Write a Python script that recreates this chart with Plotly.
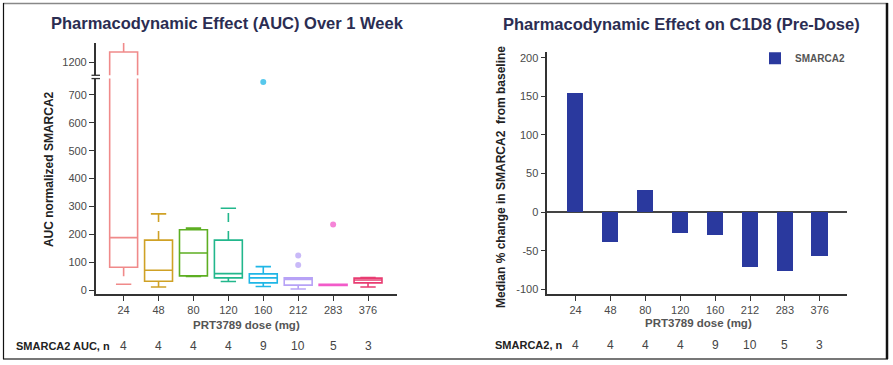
import plotly.graph_objects as go

# ---------------- data ----------------
doses = ["24", "48", "80", "120", "160", "212", "283", "376"]
auc_q1 = [83, 33, 52, 45, 27, 19, 18, 27]
auc_median = [189, 72, 134, 60, 45, 39, 20, 37]
auc_q3 = [1237, 180, 217, 180, 59, 45, 22, 44]
auc_lower = [22, 12, 50, 32, 14, 5, 18, 12]
auc_upper = [1280, 274, 223, 294, 85, 45, 22, 46]
upper_dashed = [True, True, False, True, False, False, False, False]
lower_dashed = [True, False, False, False, False, False, False, False]
outlier_dose = ["160", "212", "212", "283"]
outlier_value = [746, 125, 91, 236]
auc_n = [4, 4, 4, 4, 9, 10, 5, 3]

pct_change = [154.5, -38.6, 29.1, -26.7, -29.2, -71.7, -75.6, -56.3]
smarca2_n = [4, 4, 4, 4, 9, 10, 5, 3]

box_colors = ["#F08A8A", "#CFA125", "#5DAE22", "#22B78C", "#1FB6E6",
              "#B7A2F6", "#F25BC9", "#E83C72"]
bar_color = "#2A399E"

W, H = 893, 365
FONT = "Liberation Sans, Arial, sans-serif"


def px(x):
    return x / W


def py(y):
    return 1 - y / H


fig = go.Figure()

BREAK_LOW = 1154
idx = list(range(len(doses)))

for i, d in enumerate(doses):
    c = box_colors[i]
    axes = [("x", "y")]
    if auc_q3[i] > 760:
        axes.append(("x3", "y3"))
    for xa, ya in axes:
        fig.add_trace(go.Box(
            x=[i], q1=[auc_q1[i]], median=[auc_median[i]], q3=[auc_q3[i]],
            lowerfence=[auc_q1[i]], upperfence=[auc_q3[i]],
            width=0.8, whiskerwidth=0, boxpoints=False,
            line=dict(color=c, width=1.6), fillcolor="rgba(0,0,0,0)",
            xaxis=xa, yaxis=ya, showlegend=False, hoverinfo="skip"))
    # whiskers
    up_axes = ("x3", "y3") if auc_q3[i] > 760 else ("x", "y")
    for (y0, y1, dashed, ax) in [(auc_q3[i], auc_upper[i], upper_dashed[i], up_axes),
                                 (auc_q1[i], auc_lower[i], lower_dashed[i], ("x", "y"))]:
        if y0 == y1:
            continue
        fig.add_trace(go.Scatter(
            x=[i, i], y=[y0, y1], mode="lines",
            line=dict(color=c, width=1.6, dash="dash" if dashed else "solid"),
            xaxis=ax[0], yaxis=ax[1], showlegend=False, hoverinfo="skip"))
        fig.add_trace(go.Scatter(
            x=[i - 0.22, i + 0.22], y=[y1, y1], mode="lines",
            line=dict(color=c, width=1.6),
            xaxis=ax[0], yaxis=ax[1], showlegend=False, hoverinfo="skip"))

# outliers
for d, v in zip(outlier_dose, outlier_value):
    i = doses.index(d)
    fig.add_trace(go.Scatter(
        x=[i], y=[v], mode="markers",
        marker=dict(color=box_colors[i], size=6, opacity=0.75),
        xaxis="x", yaxis="y", showlegend=False, hoverinfo="skip"))

# right: bars
fig.add_trace(go.Bar(
    x=doses, y=pct_change, width=0.46, marker=dict(color=bar_color, line=dict(width=0)),
    name="<b>SMARCA2</b>", xaxis="x2", yaxis="y2", showlegend=True))

tickfont = dict(family=FONT, size=11, color="#4a4a4a")
axis_common = dict(showline=True, linecolor="#333", linewidth=1.5, ticks="outside",
                   ticklen=5, tickwidth=1.2, tickcolor="#333", showgrid=False,
                   zeroline=False, tickfont=tickfont)

fig.update_layout(
    width=W, height=H, margin=dict(l=0, r=0, t=0, b=0),
    paper_bgcolor="white", plot_bgcolor="white",
    font=dict(family=FONT),
    xaxis=dict(domain=[px(95.7), px(397)], range=[-0.8, 7.83], anchor="y",
               tickvals=idx, ticktext=doses, **axis_common),
    yaxis=dict(domain=[py(296), py(79)], range=[-14.2, 758], anchor="x",
               tickvals=[0, 100, 200, 300, 400, 500, 600, 700], **axis_common),
    xaxis3=dict(domain=[px(95.7), px(397)], range=[-0.8, 7.83], anchor="y3",
                visible=False),
    yaxis3=dict(domain=[py(75.7), py(43)], range=[BREAK_LOW, 1270], anchor="x3",
                tickvals=[1200], **axis_common),
    xaxis2=dict(domain=[px(547.3), px(847)], range=[-0.81, 7.78], anchor="y2",
                type="category", **axis_common),
    yaxis2=dict(domain=[py(296), py(52.3)], range=[-106.5, 207.3], anchor="x2",
                tickvals=[-100, -50, 0, 50, 100, 150, 200],
                ticktext=["-100", "-50", "0", "50", "100", "150", "200"],
                **axis_common),
    legend=dict(x=px(755), y=py(44), xanchor="left", yanchor="top",
                bgcolor="rgba(0,0,0,0)", itemwidth=30,
                font=dict(family=FONT, size=10, color="#555")),
    bargap=0,
)
fig.update_yaxes(selector=dict(anchor="x2"), zeroline=True, zerolinecolor="#444",
                 zerolinewidth=1.5)

ann = []


def add_ann(text, x, y, xref="paper", font=None, angle=0, xanchor="center"):
    ann.append(dict(text=text, x=x, y=y, xref=xref, yref="paper", showarrow=False,
                    xanchor=xanchor, yanchor="middle", textangle=angle, font=font))


title_font = dict(family=FONT, size=16.5, color="#2B2D52")
add_ann("<b>Pharmacodynamic Effect (AUC) Over 1 Week</b>", px(228), py(23.5), font=title_font)
add_ann("<b>Pharmacodynamic Effect on C1D8 (Pre-Dose)</b>", px(681), py(24), font=title_font)
lab_font = dict(family=FONT, size=11.5, color="#555")
add_ann("<b>PRT3789 dose (mg)</b>", px(246), py(327), font=lab_font)
add_ann("<b>PRT3789 dose (mg)</b>", px(698), py(325), font=lab_font)
add_ann("<b>AUC normalized SMARCA2</b>", px(49), py(170), angle=-90,
        font=dict(family=FONT, size=12, color="#222"))
add_ann("<b>Median % change in SMARCA2  from baseline</b>", px(501), py(178), angle=-90,
        font=dict(family=FONT, size=12, color="#222"))
row_font = dict(family=FONT, size=11, color="#222")
num_font = dict(family=FONT, size=12, color="#444")
add_ann("<b>SMARCA2 AUC, n</b>", px(14), py(348), font=row_font, xanchor="left")
add_ann("<b>SMARCA2, n</b>", px(493), py(347), font=row_font, xanchor="left")
for i, n in enumerate(auc_n):
    add_ann(str(n), i, py(348), xref="x", font=num_font)
for i, n in enumerate(smarca2_n):
    add_ann(str(n), i, py(347), xref="x2", font=num_font)
fig.update_layout(annotations=ann)

shapes = []
# axis break marks
for yb in (75.7, 79.0):
    shapes.append(dict(type="line", xref="paper", yref="paper", x0=px(91.5), x1=px(100),
                       y0=py(yb), y1=py(yb), line=dict(color="#333", width=1.3)))
# outer frame
shapes.append(dict(type="line", xref="paper", yref="paper", x0=px(3), x1=px(888),
                   y0=py(3.5), y1=py(3.5), line=dict(color="#888", width=1.5)))
shapes.append(dict(type="line", xref="paper", yref="paper", x0=px(3), x1=px(888),
                   y0=py(361), y1=py(361), line=dict(color="#777", width=2)))
shapes.append(dict(type="line", xref="paper", yref="paper", x0=px(3.5), x1=px(3.5),
                   y0=py(3), y1=py(361), line=dict(color="#111", width=1.2)))
shapes.append(dict(type="line", xref="paper", yref="paper", x0=px(887), x1=px(887),
                   y0=py(3), y1=py(361), line=dict(color="#111", width=2.5)))
fig.update_layout(shapes=shapes)

fig.write_html("out.html", config={"displayModeBar": False},
               post_script="document.body.style.margin='0px';"
                           "document.body.style.overflow='hidden';")
